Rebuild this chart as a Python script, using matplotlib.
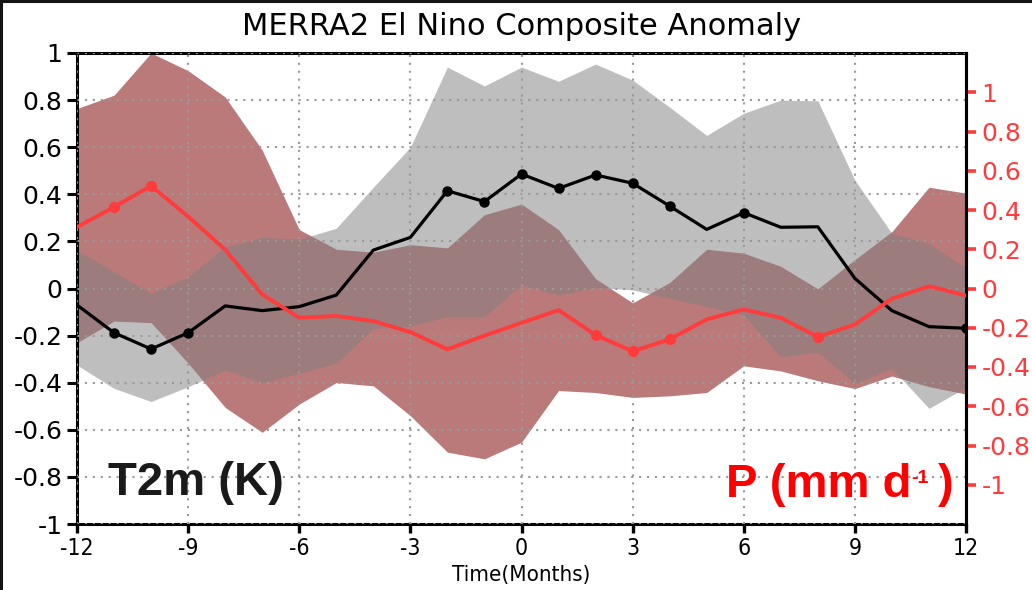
import matplotlib
matplotlib.use('Agg')
import matplotlib.pyplot as plt
import numpy as np
from matplotlib.lines import Line2D
from matplotlib.ticker import FixedLocator, FuncFormatter

plt.rcParams['axes.unicode_minus'] = False
plt.rcParams['font.family'] = ['DejaVu Sans']

# 合成月份 (El Nino 峰值为 0)
months = list(range(-12, 13))

# 2 m 气温异常 (K) 及其范围
t2m = [-0.07, -0.188, -0.257, -0.188, -0.074, -0.094, -0.077, -0.028, 0.163,
       0.217, 0.415, 0.369, 0.486, 0.425, 0.482, 0.447, 0.35, 0.251, 0.322,
       0.26, 0.262, 0.043, -0.094, -0.162, -0.169]
t2m_hi = [0.163, 0.071, -0.02, 0.05, 0.177, 0.217, 0.209, 0.256, 0.43, 0.60,
          0.94, 0.86, 0.94, 0.88, 0.953, 0.885, 0.77, 0.65, 0.744, 0.80,
          0.797, 0.46, 0.234, 0.192, 0.086]
t2m_lo = [-0.325, -0.424, -0.48, -0.417, -0.346, -0.40, -0.36, -0.318, -0.17,
          -0.16, -0.12, -0.12, 0.015, -0.028, 0.005, -0.006, -0.042, -0.077,
          -0.113, -0.29, -0.27, -0.403, -0.339, -0.509, -0.42]
t2m_sig = [-11, -10, -9, -2, -1, 0, 1, 2, 3, 4, 6, 12]

# 降水异常 (mm/d) 及其范围
prec = [0.313, 0.415, 0.523, 0.367, 0.198, -0.03, -0.149, -0.14, -0.166,
        -0.222, -0.31, -0.24, -0.175, -0.11, -0.237, -0.32, -0.259, -0.157,
        -0.107, -0.149, -0.247, -0.183, -0.052, 0.012, -0.036]
prec_hi = [0.917, 0.985, 1.2, 1.11, 0.976, 0.705, 0.30, 0.20, 0.185, 0.223,
           0.207, 0.376, 0.43, 0.30, 0.05, -0.073, 0.03, 0.20, 0.18, 0.113,
           -0.002, 0.147, 0.29, 0.516, 0.486]
prec_lo = [-0.276, -0.166, -0.174, -0.38, -0.606, -0.733, -0.589, -0.479,
           -0.496, -0.648, -0.834, -0.868, -0.783, -0.52, -0.53, -0.555,
           -0.547, -0.53, -0.394, -0.42, -0.47, -0.51, -0.446, -0.50, -0.538]
prec_sig = [-11, -10, 2, 3, 4, 8]

xticks = list(range(-12, 13, 3))
yticks = [round(v, 1) for v in np.arange(-1.0, 1.01, 0.2)]

RED = '#ff3b3b'


def tick_fmt(v, pos):
    if abs(v) < 1e-9:
        return '0'
    return f'{v:g}'


fig = plt.figure(figsize=(10.32, 5.90), dpi=100)
ax = fig.add_axes([77 / 1032, 1 - 524 / 590, 889 / 1032, 471 / 590])
axb = ax.twinx()   # 降水范围 (最底层)
axp = ax.twinx()   # 降水曲线与右侧刻度 (最上层)
axb.set_zorder(0)
ax.set_zorder(1)
axp.set_zorder(2)
ax.patch.set_visible(False)
axp.patch.set_visible(False)

# 降水范围
axb.fill_between(months, prec_lo, prec_hi, color='#ba7a7a', lw=0)
axb.set_ylim(-1.2, 1.2)
axb.set_axis_off()

# 气温范围与曲线
ax.fill_between(months, t2m_lo, t2m_hi, color='#7f7f7f', alpha=0.5, lw=0, zorder=1)
ax.plot(months, t2m, color='black', lw=2.3, zorder=3)
sig_t = [t2m[months.index(m)] for m in t2m_sig]
ax.plot(t2m_sig, sig_t, 'o', color='black', ms=6.5, zorder=3)
ax.set_xlim(-12, 12)
ax.set_ylim(-1, 1)
ax.set_axisbelow(False)
ax.grid(True, color='#999999', linestyle=(0, (1, 2.8)), lw=1.5)
ax.xaxis.set_major_locator(FixedLocator(xticks))
ax.yaxis.set_major_locator(FixedLocator(yticks))
ax.yaxis.set_major_formatter(FuncFormatter(tick_fmt))
ax.tick_params(axis='y', direction='out', length=7, width=2.2, pad=3.5,
               labelsize=18, color='black')
ax.tick_params(axis='x', direction='out', length=6.5, width=2.4, pad=3,
               labelsize=16.5)
for lab in ax.get_xticklabels():
    lab.set_fontstretch('condensed')
for sp in ax.spines.values():
    sp.set_linewidth(2.2)
ax.set_xlabel('Time(Months)', fontsize=16, fontstretch='condensed')
ax.xaxis.set_label_coords(0.5, -0.086)

# 降水曲线
axp.plot(months, prec, color=RED, lw=2.8, zorder=3)
sig_p = [prec[months.index(m)] for m in prec_sig]
axp.plot(prec_sig, sig_p, 'o', color=RED, ms=7, zorder=3)
axp.set_ylim(-1.2, 1.2)
axp.yaxis.set_major_locator(FixedLocator(yticks))
axp.yaxis.set_major_formatter(FuncFormatter(tick_fmt))
axp.tick_params(axis='y', direction='out', length=7, width=2.6, pad=4,
                labelsize=18, color=RED, labelcolor=RED)
for name, sp in axp.spines.items():
    sp.set_visible(name == 'right')
axp.spines['right'].set_linewidth(2.2)

# 标注
ax.text((108 - 77) / 889, 0.062, 'T2m (K)', transform=ax.transAxes,
        family='Liberation Sans', weight='bold', fontsize=34, color='#1a1a1a',
        va='baseline', ha='left', zorder=5)
axp.text(0.730, 0.057, 'P (mm d', transform=ax.transAxes,
         family='Liberation Sans', weight='bold', fontsize=34, color='red',
         va='baseline', ha='left', zorder=5)
axp.text(0.9385, 0.1146, '-1', transform=ax.transAxes,
         family='Liberation Sans', weight='bold', fontsize=14, color='red',
         va='top', ha='left', zorder=5)
axp.text(0.9685, 0.057, ')', transform=ax.transAxes,
         family='Liberation Sans', weight='bold', fontsize=34, color='red',
         va='baseline', ha='left', zorder=5)

fig.text(521.5 / 1032, 1 - 35 / 590, 'MERRA2 El Nino Composite Anomaly',
         fontsize=22, ha='center', va='baseline')

# 外框
fig.add_artist(Line2D([0, 1], [0.9975, 0.9975], transform=fig.transFigure,
                      color='#141414', lw=2.2))
fig.add_artist(Line2D([0.0013, 0.0013], [0, 1], transform=fig.transFigure,
                      color='#141414', lw=2.2))

fig.savefig('out.png', dpi=100)
